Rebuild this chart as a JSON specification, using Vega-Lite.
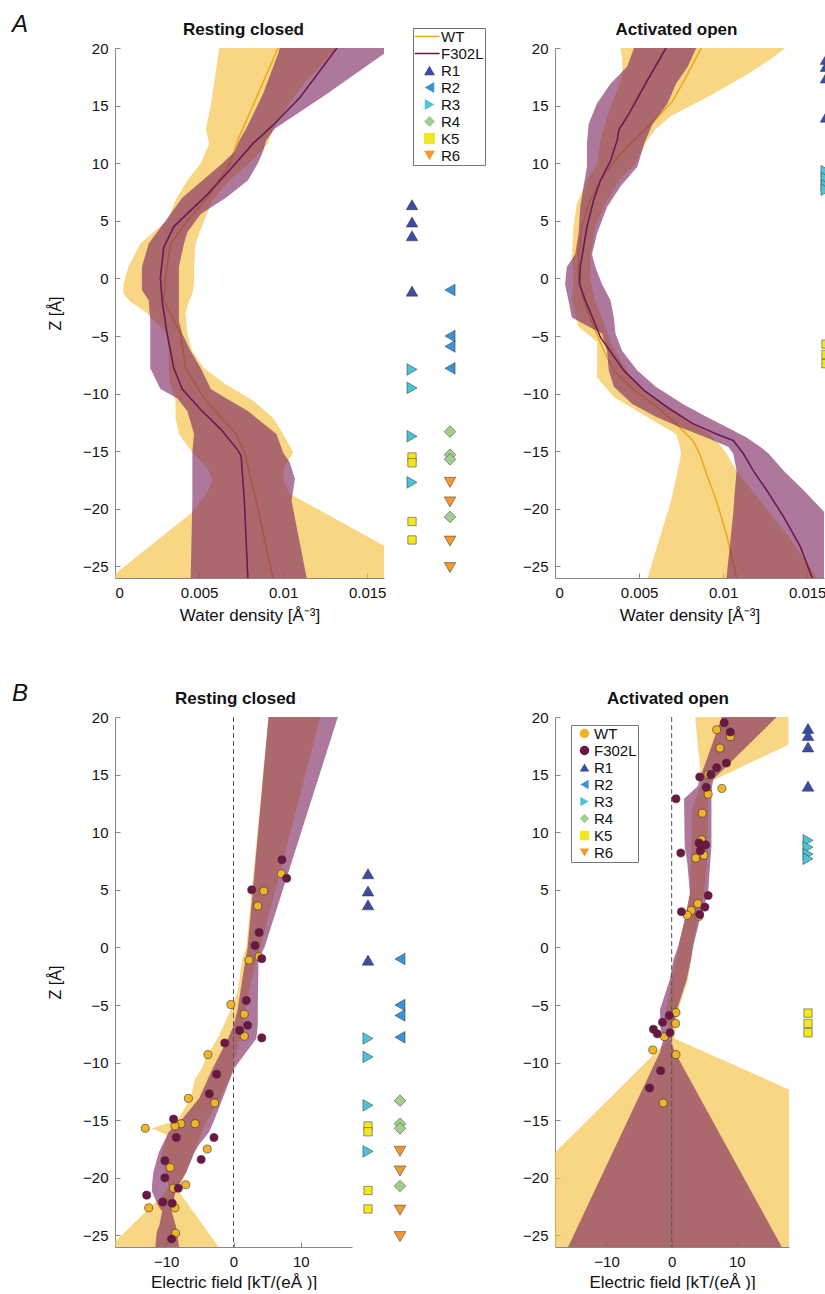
{
  "$schema": "https://vega.github.io/schema/vega-lite/v6.json",
  "background": "white",
  "padding": {"left": 12, "top": 13, "right": 0, "bottom": 0},
  "config": {
    "font": "Liberation Sans",
    "view": {"stroke": null},
    "axis": {"grid": false, "domainColor": "#888", "tickColor": "#888", "labelFontSize": 15, "titleFontSize": 17, "titleFontWeight": "normal", "labelColor": "#111", "titleColor": "#111", "tickSize": -5, "labelFont": "Liberation Sans", "titleFont": "Liberation Sans", "labelPadding": 12, "titlePadding": 7},
    "title": {"font": "Liberation Sans", "color": "#111"},
    "legend": {"labelFont": "Liberation Sans", "labelFontSize": 15, "labelColor": "#111"}
  },
  "datasets": {
    "a1_band": [
      {"s":"WT","z":20,"lo":0.0062,"hi":0.0132},{"s":"WT","z":17,"lo":0.0059,"hi":0.0113},{"s":"WT","z":15,"lo":0.0057,"hi":0.0103},{"s":"WT","z":13,"lo":0.0054,"hi":0.0094},{"s":"WT","z":11.7,"lo":0.0056,"hi":0.0091},{"s":"WT","z":10,"lo":0.0051,"hi":0.0080},{"s":"WT","z":8.5,"lo":0.0043,"hi":0.0068},{"s":"WT","z":6.8,"lo":0.0036,"hi":0.0058},{"s":"WT","z":5,"lo":0.0031,"hi":0.0053},{"s":"WT","z":3.9,"lo":0.0022,"hi":0.0050},{"s":"WT","z":3,"lo":0.0015,"hi":0.0048},{"s":"WT","z":1,"lo":0.0008,"hi":0.0047},{"s":"WT","z":-0.5,"lo":0.0005,"hi":0.0047},{"s":"WT","z":-1.3,"lo":0.0005,"hi":0.0046},{"s":"WT","z":-2,"lo":0.0009,"hi":0.0044},{"s":"WT","z":-3,"lo":0.0019,"hi":0.0042},{"s":"WT","z":-4.8,"lo":0.0031,"hi":0.0043},{"s":"WT","z":-6.3,"lo":0.0032,"hi":0.0046},{"s":"WT","z":-7.8,"lo":0.0032,"hi":0.0053},{"s":"WT","z":-9.2,"lo":0.0033,"hi":0.0066},{"s":"WT","z":-10.6,"lo":0.0036,"hi":0.0082},{"s":"WT","z":-12.1,"lo":0.0036,"hi":0.0094},{"s":"WT","z":-13.5,"lo":0.0038,"hi":0.0100},{"s":"WT","z":-15.1,"lo":0.0046,"hi":0.0106},{"s":"WT","z":-16.3,"lo":0.0054,"hi":0.0101},{"s":"WT","z":-17.5,"lo":0.0058,"hi":0.0100},{"s":"WT","z":-18.7,"lo":0.0054,"hi":0.0104},{"s":"WT","z":-20.3,"lo":0.0046,"hi":0.0124},{"s":"WT","z":-23.2,"lo":0.0021,"hi":0.0160},{"s":"WT","z":-26,"lo":-0.0003,"hi":0.0196},
      {"s":"F302L","z":20,"lo":0.0098,"hi":0.0160},{"s":"F302L","z":19.5,"lo":0.0097,"hi":0.0160},{"s":"F302L","z":16,"lo":0.0088,"hi":0.0126},{"s":"F302L","z":13,"lo":0.0078,"hi":0.0095},{"s":"F302L","z":12,"lo":0.0074,"hi":0.0090},{"s":"F302L","z":11,"lo":0.0071,"hi":0.0088},{"s":"F302L","z":10,"lo":0.0064,"hi":0.0085},{"s":"F302L","z":8.5,"lo":0.0052,"hi":0.0079},{"s":"F302L","z":7,"lo":0.0040,"hi":0.0066},{"s":"F302L","z":5.6,"lo":0.0033,"hi":0.0051},{"s":"F302L","z":4,"lo":0.0025,"hi":0.0043},{"s":"F302L","z":3,"lo":0.0020,"hi":0.0041},{"s":"F302L","z":1,"lo":0.0016,"hi":0.0038},{"s":"F302L","z":-1,"lo":0.0016,"hi":0.0038},{"s":"F302L","z":-1.9,"lo":0.0020,"hi":0.0038},{"s":"F302L","z":-3.7,"lo":0.0021,"hi":0.0038},{"s":"F302L","z":-4.8,"lo":0.0021,"hi":0.0040},{"s":"F302L","z":-6.3,"lo":0.0021,"hi":0.0045},{"s":"F302L","z":-7.8,"lo":0.0021,"hi":0.0051},{"s":"F302L","z":-9.6,"lo":0.0027,"hi":0.0057},{"s":"F302L","z":-10.4,"lo":0.0037,"hi":0.0066},{"s":"F302L","z":-11.5,"lo":0.0043,"hi":0.0079},{"s":"F302L","z":-13.5,"lo":0.0047,"hi":0.0096},{"s":"F302L","z":-15.1,"lo":0.0046,"hi":0.0100},{"s":"F302L","z":-16,"lo":0.0046,"hi":0.0104},{"s":"F302L","z":-17.4,"lo":0.0046,"hi":0.0107},{"s":"F302L","z":-19.3,"lo":0.0046,"hi":0.0105},{"s":"F302L","z":-26,"lo":0.0045,"hi":0.0114}
    ],
    "a1_mean": [
      {"s":"WT","z":20,"v":0.0097},{"s":"WT","z":12,"v":0.0073},{"s":"WT","z":10,"v":0.00685},{"s":"WT","z":7,"v":0.0055},{"s":"WT","z":5,"v":0.0043},{"s":"WT","z":3,"v":0.0033},{"s":"WT","z":0,"v":0.0030},{"s":"WT","z":-1.9,"v":0.0029},{"s":"WT","z":-4.8,"v":0.0039},{"s":"WT","z":-7.8,"v":0.0042},{"s":"WT","z":-10.6,"v":0.0054},{"s":"WT","z":-13.5,"v":0.0072},{"s":"WT","z":-15.1,"v":0.0077},{"s":"WT","z":-19.3,"v":0.0084},{"s":"WT","z":-26,"v":0.0094},
      {"s":"F302L","z":20,"v":0.0132},{"s":"F302L","z":15.7,"v":0.0110},{"s":"F302L","z":13.3,"v":0.0094},{"s":"F302L","z":11.7,"v":0.0082},{"s":"F302L","z":9.7,"v":0.0070},{"s":"F302L","z":7.3,"v":0.0055},{"s":"F302L","z":4.5,"v":0.0035},{"s":"F302L","z":2.7,"v":0.0029},{"s":"F302L","z":0.1,"v":0.0027},{"s":"F302L","z":-1.9,"v":0.0028},{"s":"F302L","z":-4.8,"v":0.0031},{"s":"F302L","z":-7.8,"v":0.0035},{"s":"F302L","z":-9.6,"v":0.0040},{"s":"F302L","z":-11.4,"v":0.0051},{"s":"F302L","z":-13.1,"v":0.0063},{"s":"F302L","z":-14.9,"v":0.0073},{"s":"F302L","z":-15.4,"v":0.0075},{"s":"F302L","z":-19.4,"v":0.0077},{"s":"F302L","z":-26,"v":0.0079}
    ],
    "a2_band": [
      {"s":"WT","z":20,"lo":0.0039,"hi":0.0137},{"s":"WT","z":19,"lo":0.0040,"hi":0.0128},{"s":"WT","z":17.5,"lo":0.0040,"hi":0.0112},{"s":"WT","z":16,"lo":0.0036,"hi":0.0094},{"s":"WT","z":14.1,"lo":0.0031,"hi":0.0069},{"s":"WT","z":13,"lo":0.0029,"hi":0.0060},{"s":"WT","z":12,"lo":0.0027,"hi":0.0055},{"s":"WT","z":10,"lo":0.0025,"hi":0.0048},{"s":"WT","z":8.5,"lo":0.0019,"hi":0.0038},{"s":"WT","z":6.5,"lo":0.0013,"hi":0.0030},{"s":"WT","z":4.5,"lo":0.0011,"hi":0.0024},{"s":"WT","z":2,"lo":0.0010,"hi":0.0021},{"s":"WT","z":0,"lo":0.0011,"hi":0.0021},{"s":"WT","z":-2,"lo":0.0010,"hi":0.0024},{"s":"WT","z":-4.2,"lo":0.0014,"hi":0.0030},{"s":"WT","z":-5.5,"lo":0.0025,"hi":0.0033},{"s":"WT","z":-8.6,"lo":0.0025,"hi":0.0045},{"s":"WT","z":-10.3,"lo":0.0035,"hi":0.0058},{"s":"WT","z":-11.7,"lo":0.0051,"hi":0.0072},{"s":"WT","z":-13.5,"lo":0.0072,"hi":0.0092},{"s":"WT","z":-14.4,"lo":0.0074,"hi":0.0098},{"s":"WT","z":-15.2,"lo":0.0075,"hi":0.0102},{"s":"WT","z":-16.7,"lo":0.0073,"hi":0.0108},{"s":"WT","z":-19.3,"lo":0.0069,"hi":0.0122},{"s":"WT","z":-22.2,"lo":0.0063,"hi":0.0138},{"s":"WT","z":-26,"lo":0.0055,"hi":0.0156},
      {"s":"F302L","z":20,"lo":0.0047,"hi":0.0084},{"s":"F302L","z":18.4,"lo":0.0043,"hi":0.0079},{"s":"F302L","z":16.9,"lo":0.0033,"hi":0.0072},{"s":"F302L","z":15.2,"lo":0.0025,"hi":0.0067},{"s":"F302L","z":13.4,"lo":0.0020,"hi":0.0058},{"s":"F302L","z":11.7,"lo":0.0019,"hi":0.0053},{"s":"F302L","z":9.7,"lo":0.0019,"hi":0.0049},{"s":"F302L","z":8,"lo":0.0017,"hi":0.0039},{"s":"F302L","z":6.2,"lo":0.0015,"hi":0.0031},{"s":"F302L","z":3.9,"lo":0.0014,"hi":0.0025},{"s":"F302L","z":2.1,"lo":0.0012,"hi":0.0022},{"s":"F302L","z":1,"lo":0.0007,"hi":0.0024},{"s":"F302L","z":-0.5,"lo":0.0006,"hi":0.0028},{"s":"F302L","z":-1.9,"lo":0.0008,"hi":0.0033},{"s":"F302L","z":-3.4,"lo":0.0010,"hi":0.0035},{"s":"F302L","z":-4.8,"lo":0.0028,"hi":0.0036},{"s":"F302L","z":-6.3,"lo":0.0031,"hi":0.0040},{"s":"F302L","z":-8,"lo":0.0032,"hi":0.0049},{"s":"F302L","z":-9.4,"lo":0.0035,"hi":0.0060},{"s":"F302L","z":-10.9,"lo":0.0046,"hi":0.0076},{"s":"F302L","z":-12,"lo":0.0060,"hi":0.0090},{"s":"F302L","z":-12.9,"lo":0.0074,"hi":0.0102},{"s":"F302L","z":-13.8,"lo":0.0090,"hi":0.0114},{"s":"F302L","z":-14.6,"lo":0.0103,"hi":0.0122},{"s":"F302L","z":-15.2,"lo":0.0106,"hi":0.0127},{"s":"F302L","z":-16.7,"lo":0.0108,"hi":0.0136},{"s":"F302L","z":-18.4,"lo":0.0107,"hi":0.0148},{"s":"F302L","z":-20.4,"lo":0.0106,"hi":0.0161},{"s":"F302L","z":-26,"lo":0.0102,"hi":0.0190}
    ],
    "a2_mean": [
      {"s":"WT","z":20,"v":0.0087},{"s":"WT","z":17.5,"v":0.0078},{"s":"WT","z":15.4,"v":0.0070},{"s":"WT","z":13.7,"v":0.0059},{"s":"WT","z":12,"v":0.0047},{"s":"WT","z":10.5,"v":0.0037},{"s":"WT","z":8.5,"v":0.0027},{"s":"WT","z":6.5,"v":0.0020},{"s":"WT","z":4.5,"v":0.0016},{"s":"WT","z":2.1,"v":0.0014},{"s":"WT","z":0.1,"v":0.0014},{"s":"WT","z":-1.9,"v":0.0017},{"s":"WT","z":-4.2,"v":0.0023},{"s":"WT","z":-6.25,"v":0.0029},{"s":"WT","z":-8,"v":0.0035},{"s":"WT","z":-9.7,"v":0.0047},{"s":"WT","z":-11.2,"v":0.0061},{"s":"WT","z":-12.9,"v":0.0074},{"s":"WT","z":-14.06,"v":0.0082},{"s":"WT","z":-15.2,"v":0.0086},{"s":"WT","z":-16.9,"v":0.0090},{"s":"WT","z":-19.3,"v":0.0096},{"s":"WT","z":-22.2,"v":0.0102},{"s":"WT","z":-26,"v":0.0108},
      {"s":"F302L","z":20,"v":0.0066},{"s":"F302L","z":17.2,"v":0.0055},{"s":"F302L","z":14.3,"v":0.0044},{"s":"F302L","z":12.9,"v":0.0038},{"s":"F302L","z":12,"v":0.0037},{"s":"F302L","z":10.2,"v":0.0033},{"s":"F302L","z":8.5,"v":0.0027},{"s":"F302L","z":6.8,"v":0.0023},{"s":"F302L","z":4.5,"v":0.0019},{"s":"F302L","z":2.7,"v":0.0017},{"s":"F302L","z":1,"v":0.0015},{"s":"F302L","z":-0.46,"v":0.00145},{"s":"F302L","z":-1.9,"v":0.0018},{"s":"F302L","z":-3.65,"v":0.0023},{"s":"F302L","z":-5.1,"v":0.0027},{"s":"F302L","z":-8,"v":0.0041},{"s":"F302L","z":-9.72,"v":0.0053},{"s":"F302L","z":-11.2,"v":0.0067},{"s":"F302L","z":-12.6,"v":0.0082},{"s":"F302L","z":-13.5,"v":0.0096},{"s":"F302L","z":-14.06,"v":0.0106},{"s":"F302L","z":-15.2,"v":0.0112},{"s":"F302L","z":-16.7,"v":0.0118},{"s":"F302L","z":-18.4,"v":0.0126},{"s":"F302L","z":-20.7,"v":0.0136},{"s":"F302L","z":-23.3,"v":0.0146},{"s":"F302L","z":-26,"v":0.0153}
    ],
    "b1_band": [
      {"s":"WT","z":20,"lo":5.2,"hi":12.9},{"s":"WT","z":0,"lo":1.9,"hi":4.0},{"s":"WT","z":-1,"lo":1.3,"hi":3.4},{"s":"WT","z":-3.9,"lo":0.6,"hi":2.3},{"s":"WT","z":-5.4,"lo":-0.4,"hi":1.8},{"s":"WT","z":-7.7,"lo":-2.2,"hi":1.0},{"s":"WT","z":-9.7,"lo":-4.2,"hi":0.2},{"s":"WT","z":-10.5,"lo":-4.7,"hi":0.0},{"s":"WT","z":-11.4,"lo":-5.7,"hi":-0.6},{"s":"WT","z":-13.1,"lo":-6.4,"hi":-2.0},{"s":"WT","z":-15,"lo":-8.3,"hi":-3.9},{"s":"WT","z":-15.7,"lo":-12.2,"hi":-4.5},{"s":"WT","z":-16.3,"lo":-9.8,"hi":-4.9},{"s":"WT","z":-17.8,"lo":-10.7,"hi":-5.9},{"s":"WT","z":-20.9,"lo":-9.6,"hi":-8.0},{"s":"WT","z":-21.2,"lo":-10.0,"hi":-8.1},{"s":"WT","z":-26,"lo":-18.4,"hi":-2.2},
      {"s":"F302L","z":20,"lo":5.2,"hi":15.5},{"s":"F302L","z":0,"lo":2.1,"hi":4.6},{"s":"F302L","z":-1,"lo":1.8,"hi":3.7},{"s":"F302L","z":-5.4,"lo":0.6,"hi":3.6},{"s":"F302L","z":-6.8,"lo":0.0,"hi":3.6},{"s":"F302L","z":-7.9,"lo":-0.8,"hi":3.4},{"s":"F302L","z":-10.5,"lo":-3.1,"hi":0.1},{"s":"F302L","z":-13.1,"lo":-5.1,"hi":-1.6},{"s":"F302L","z":-14.9,"lo":-7.6,"hi":-2.8},{"s":"F302L","z":-16,"lo":-9.6,"hi":-3.6},{"s":"F302L","z":-17.2,"lo":-10.6,"hi":-5.2},{"s":"F302L","z":-17.8,"lo":-11.1,"hi":-5.8},{"s":"F302L","z":-19.5,"lo":-11.9,"hi":-7.0},{"s":"F302L","z":-20.6,"lo":-12.1,"hi":-8.1},{"s":"F302L","z":-21.2,"lo":-12.1,"hi":-8.6},{"s":"F302L","z":-22.4,"lo":-11.2,"hi":-9.1},{"s":"F302L","z":-22.9,"lo":-10.6,"hi":-9.2},{"s":"F302L","z":-24.1,"lo":-11.0,"hi":-8.6},{"s":"F302L","z":-24.7,"lo":-11.4,"hi":-8.4},{"s":"F302L","z":-26,"lo":-11.6,"hi":-8.1}
    ],
    "b1_pts": [
      {"s":"WT","x":7.1,"z":6.4},{"s":"WT","x":4.5,"z":4.9},{"s":"WT","x":3.6,"z":3.6},{"s":"WT","x":3.8,"z":-0.8},{"s":"WT","x":2.3,"z":-1.1},{"s":"WT","x":-0.4,"z":-4.96},{"s":"WT","x":1.6,"z":-5.8},{"s":"WT","x":1.6,"z":-7.7},{"s":"WT","x":-3.8,"z":-9.3},{"s":"WT","x":-6.7,"z":-13.1},{"s":"WT","x":-2.8,"z":-13.5},{"s":"WT","x":-13.1,"z":-15.7},{"s":"WT","x":-7.8,"z":-15.3},{"s":"WT","x":-5.7,"z":-15.3},{"s":"WT","x":-8.7,"z":-15.5},{"s":"WT","x":-3.9,"z":-17.5},{"s":"WT","x":-9.4,"z":-19.1},{"s":"WT","x":-7.1,"z":-20.6},{"s":"WT","x":-8.9,"z":-20.9},{"s":"WT","x":-12.6,"z":-22.6},{"s":"WT","x":-8.7,"z":-22.6},{"s":"WT","x":-8.6,"z":-24.8},
      {"s":"F302L","x":7.2,"z":7.6},{"s":"F302L","x":7.9,"z":6.0},{"s":"F302L","x":2.7,"z":5.0},{"s":"F302L","x":3.8,"z":1.3},{"s":"F302L","x":3.2,"z":0.17},{"s":"F302L","x":4.2,"z":-0.98},{"s":"F302L","x":1.9,"z":-4.6},{"s":"F302L","x":2.1,"z":-6.75},{"s":"F302L","x":0.9,"z":-7.2},{"s":"F302L","x":4.2,"z":-7.85},{"s":"F302L","x":-1.3,"z":-8.3},{"s":"F302L","x":-2.5,"z":-11.0},{"s":"F302L","x":-3.6,"z":-12.7},{"s":"F302L","x":-8.9,"z":-14.9},{"s":"F302L","x":-8.5,"z":-16.5},{"s":"F302L","x":-2.9,"z":-16.5},{"s":"F302L","x":-4.8,"z":-18.4},{"s":"F302L","x":-10.2,"z":-18.5},{"s":"F302L","x":-10.2,"z":-20.0},{"s":"F302L","x":-8.2,"z":-20.9},{"s":"F302L","x":-12.9,"z":-21.5},{"s":"F302L","x":-10.5,"z":-22.1},{"s":"F302L","x":-9.1,"z":-22.2},{"s":"F302L","x":-9.2,"z":-25.3}
    ],
    "b2_band": [
      {"s":"WT","z":20,"lo":3.6,"hi":17.9},{"s":"WT","z":17.6,"lo":4.0,"hi":17.9},{"s":"WT","z":14.3,"lo":4.6,"hi":5.6},{"s":"WT","z":12,"lo":3.1,"hi":5.6},{"s":"WT","z":8,"lo":3.0,"hi":5.5},{"s":"WT","z":4.7,"lo":2.8,"hi":5.0},{"s":"WT","z":2.4,"lo":2.0,"hi":4.0},{"s":"WT","z":0,"lo":1.0,"hi":3.2},{"s":"WT","z":-2.8,"lo":0.0,"hi":2.5},{"s":"WT","z":-5.4,"lo":-0.9,"hi":1.0},{"s":"WT","z":-7.9,"lo":-0.3,"hi":0.4},{"s":"WT","z":-12.3,"lo":-8.1,"hi":17.9},{"s":"WT","z":-17.8,"lo":-17.9,"hi":39.8},{"s":"WT","z":-26,"lo":-32.3,"hi":70},
      {"s":"F302L","z":20,"lo":7.7,"hi":16.1},{"s":"F302L","z":14.6,"lo":4.3,"hi":6.4},{"s":"F302L","z":14,"lo":4.0,"hi":6.2},{"s":"F302L","z":12.9,"lo":1.9,"hi":6.1},{"s":"F302L","z":8.8,"lo":2.0,"hi":6.1},{"s":"F302L","z":7.3,"lo":2.4,"hi":5.9},{"s":"F302L","z":4.7,"lo":2.8,"hi":5.6},{"s":"F302L","z":2.4,"lo":2.0,"hi":4.3},{"s":"F302L","z":0.1,"lo":1.0,"hi":3.3},{"s":"F302L","z":-1,"lo":0.3,"hi":3.0},{"s":"F302L","z":-2.8,"lo":-0.3,"hi":2.3},{"s":"F302L","z":-5.4,"lo":-1.8,"hi":0.8},{"s":"F302L","z":-7,"lo":-1.7,"hi":0.2},{"s":"F302L","z":-8,"lo":-1.3,"hi":-0.2},{"s":"F302L","z":-9.1,"lo":-1.8,"hi":0.5},{"s":"F302L","z":-26,"lo":-15.9,"hi":16.9}
    ],
    "b2_pts": [
      {"s":"WT","x":6.9,"z":18.9},{"s":"WT","x":9.0,"z":18.3},{"s":"WT","x":7.4,"z":17.3},{"s":"WT","x":5.6,"z":15.0},{"s":"WT","x":7.7,"z":13.8},{"s":"WT","x":5.6,"z":13.3},{"s":"WT","x":4.7,"z":11.65},{"s":"WT","x":4.6,"z":9.34},{"s":"WT","x":4.95,"z":8.0},{"s":"WT","x":3.7,"z":7.75},{"s":"WT","x":4.0,"z":3.8},{"s":"WT","x":3.0,"z":3.2},{"s":"WT","x":2.4,"z":2.8},{"s":"WT","x":4.2,"z":2.7},{"s":"WT","x":0.66,"z":-5.65},{"s":"WT","x":0.6,"z":-6.6},{"s":"WT","x":-1.1,"z":-7.75},{"s":"WT","x":-2.9,"z":-8.9},{"s":"WT","x":0.66,"z":-9.3},{"s":"WT","x":-1.3,"z":-13.5},
      {"s":"F302L","x":8.07,"z":19.5},{"s":"F302L","x":9.0,"z":18.7},{"s":"F302L","x":8.4,"z":16.0},{"s":"F302L","x":6.9,"z":15.6},{"s":"F302L","x":6.0,"z":15.0},{"s":"F302L","x":4.3,"z":14.8},{"s":"F302L","x":5.3,"z":13.9},{"s":"F302L","x":0.66,"z":12.9},{"s":"F302L","x":4.2,"z":9.06},{"s":"F302L","x":5.2,"z":8.9},{"s":"F302L","x":4.4,"z":8.4},{"s":"F302L","x":1.4,"z":8.2},{"s":"F302L","x":5.6,"z":4.5},{"s":"F302L","x":5.1,"z":3.5},{"s":"F302L","x":1.5,"z":3.1},{"s":"F302L","x":4.3,"z":2.85},{"s":"F302L","x":-0.37,"z":-5.9},{"s":"F302L","x":-1.4,"z":-6.5},{"s":"F302L","x":-2.8,"z":-7.1},{"s":"F302L","x":-2.2,"z":-7.5},{"s":"F302L","x":-0.26,"z":-7.4},{"s":"F302L","x":-1.7,"z":-10.7},{"s":"F302L","x":-3.4,"z":-12.2}
    ],
    "res_rest": [
      {"s":"R1","col":1,"z":6.4},{"s":"R1","col":1,"z":4.9},{"s":"R1","col":1,"z":3.7},{"s":"R1","col":1,"z":-1.1},
      {"s":"R3","col":1,"z":-7.9},{"s":"R3","col":1,"z":-9.5},{"s":"R3","col":1,"z":-13.7},{"s":"R3","col":1,"z":-17.7},
      {"s":"K5","col":1,"z":-15.5},{"s":"K5","col":1,"z":-16.0},{"s":"K5","col":1,"z":-21.1},{"s":"K5","col":1,"z":-22.7},
      {"s":"R2","col":2,"z":-1.0},{"s":"R2","col":2,"z":-5.0},{"s":"R2","col":2,"z":-5.9},{"s":"R2","col":2,"z":-7.8},
      {"s":"R4","col":2,"z":-13.3},{"s":"R4","col":2,"z":-15.3},{"s":"R4","col":2,"z":-15.7},{"s":"R4","col":2,"z":-20.7},
      {"s":"R6","col":2,"z":-17.7},{"s":"R6","col":2,"z":-19.4},{"s":"R6","col":2,"z":-22.8},{"s":"R6","col":2,"z":-25.1}
    ],
    "res_act": [
      {"s":"R1","col":1,"z":19.0},{"s":"R1","col":1,"z":18.4},{"s":"R1","col":1,"z":17.4},{"s":"R1","col":1,"z":14.0},
      {"s":"R3","col":1,"z":9.3},{"s":"R3","col":1,"z":8.7},{"s":"R3","col":1,"z":8.1},{"s":"R3","col":1,"z":7.7},
      {"s":"K5","col":1,"z":-5.7},{"s":"K5","col":1,"z":-6.6},{"s":"K5","col":1,"z":-7.4}
    ]
  },
  "vconcat": [
    {
      "title": {"text": "A", "anchor": "start", "frame": "group", "fontSize": 24, "fontStyle": "italic", "fontWeight": "normal", "dx": -103, "offset": -16},
      "bounds": "flush",
      "spacing": 0,
      "resolve": {"scale": {"x": "independent", "y": "independent", "color": "independent", "shape": "independent"}, "legend": {"color": "independent", "shape": "independent"}},
      "hconcat": [
        {
          "width": 269, "height": 530,
          "title": {"text": "Resting closed", "fontSize": 17, "fontWeight": "bold", "offset": 2, "dx": -6},
          "layer": [
            {"data": {"name": "a1_band"}, "transform": [{"filter": "datum.s === 'WT'"}],
             "mark": {"type": "area", "orient": "horizontal", "color": "#f5c040", "opacity": 0.65, "clip": true},
             "encoding": {
               "y": {"field": "z", "type": "quantitative", "scale": {"domain": [-26, 20], "nice": false, "zero": false}, "axis": {"values": [20, 15, 10, 5, 0, -5, -10, -15, -20, -25], "title": "Z [Å]", "titlePadding": 19, "titleFontSize": 16}},
               "x": {"field": "lo", "type": "quantitative", "scale": {"domain": [0, 0.016], "nice": false, "zero": false}, "axis": {"values": [0, 0.005, 0.01, 0.015], "format": "~g", "title": "Water density [Å⁻³]"}},
               "x2": {"field": "hi"}}},
            {"data": {"name": "a1_mean"}, "transform": [{"filter": "datum.s === 'WT'"}],
             "mark": {"type": "line", "color": "#f0a81e", "strokeWidth": 1.6, "clip": true},
             "encoding": {"y": {"field": "z", "type": "quantitative"}, "x": {"field": "v", "type": "quantitative", "title": "Water density [Å⁻³]"}, "order": {"field": "z", "type": "quantitative"}}},
            {"data": {"name": "a1_band"}, "transform": [{"filter": "datum.s === 'F302L'"}],
             "mark": {"type": "area", "orient": "horizontal", "color": "#7d2560", "opacity": 0.62, "clip": true},
             "encoding": {"y": {"field": "z", "type": "quantitative"}, "x": {"field": "lo", "type": "quantitative", "title": "Water density [Å⁻³]"}, "x2": {"field": "hi"}}},
            {"data": {"name": "a1_mean"}, "transform": [{"filter": "datum.s === 'F302L'"}],
             "mark": {"type": "line", "color": "#6b1a52", "strokeWidth": 1.6, "clip": true},
             "encoding": {"y": {"field": "z", "type": "quantitative"}, "x": {"field": "v", "type": "quantitative", "title": "Water density [Å⁻³]"}, "order": {"field": "z", "type": "quantitative"}}}
          ]
        },
        {
          "width": 171, "height": 530,
          "data": {"name": "res_rest"},
          "encoding": {
            "x": {"field": "col", "type": "quantitative", "scale": {"domain": [0.263, 4.763], "nice": false, "zero": false}, "axis": null},
            "y": {"field": "z", "type": "quantitative", "scale": {"domain": [-26, 20], "nice": false, "zero": false}, "axis": null},
            "color": {"field": "s", "type": "nominal", "scale": {"domain": ["WT", "F302L", "R1", "R2", "R3", "R4", "K5", "R6"], "range": ["#f0a81e", "#6b1a52", "#3b4ba8", "#3a93d5", "#4cc4d6", "#9fd08f", "#f2e622", "#f29a2e"]},
              "legend": {"orient": "none", "legendX": 29, "legendY": -20, "title": null, "labelFontSize": 15, "symbolSize": 120, "padding": 1, "symbolOffset": 8, "labelOffset": 4, "rowPadding": 1, "strokeColor": "#777", "fillColor": "white", "symbolStrokeWidth": 0}},
            "shape": {"field": "s", "type": "nominal", "scale": {"domain": ["WT", "F302L", "R1", "R2", "R3", "R4", "K5", "R6"], "range": ["M-2.7,-0.14H1.85V0.14H-2.7Z", "M-2.7,-0.14H1.85V0.14H-2.7Z", "triangle-up", "triangle-left", "triangle-right", "diamond", "square", "triangle-down"]},
              "legend": {"orient": "none", "legendX": 29, "legendY": -20, "title": null, "labelFontSize": 15, "symbolSize": 120, "padding": 1, "symbolOffset": 8, "labelOffset": 4, "rowPadding": 1, "strokeColor": "#777", "fillColor": "white", "symbolStrokeWidth": 0}}
          },
          "layer": [
            {"transform": [{"filter": "datum.s === 'K5'"}], "mark": {"type": "point", "filled": true, "size": 70, "stroke": "#333", "strokeWidth": 0.5, "opacity": 1}},
            {"transform": [{"filter": "datum.s !== 'K5'"}], "mark": {"type": "point", "filled": true, "size": 135, "stroke": "#333", "strokeWidth": 0.5, "opacity": 1}}
          ]
        },
        {
          "width": 269, "height": 530,
          "title": {"text": "Activated open", "fontSize": 17, "fontWeight": "bold", "offset": 2, "dx": -13},
          "layer": [
            {"data": {"name": "a2_band"}, "transform": [{"filter": "datum.s === 'WT'"}],
             "mark": {"type": "area", "orient": "horizontal", "color": "#f5c040", "opacity": 0.65, "clip": true},
             "encoding": {
               "y": {"field": "z", "type": "quantitative", "scale": {"domain": [-26, 20], "nice": false, "zero": false}, "axis": {"values": [20, 15, 10, 5, 0, -5, -10, -15, -20, -25], "title": null}},
               "x": {"field": "lo", "type": "quantitative", "scale": {"domain": [0, 0.016], "nice": false, "zero": false}, "axis": {"values": [0, 0.005, 0.01, 0.015], "format": "~g", "title": "Water density [Å⁻³]"}},
               "x2": {"field": "hi"}}},
            {"data": {"name": "a2_mean"}, "transform": [{"filter": "datum.s === 'WT'"}],
             "mark": {"type": "line", "color": "#f0a81e", "strokeWidth": 1.6, "clip": true},
             "encoding": {"y": {"field": "z", "type": "quantitative"}, "x": {"field": "v", "type": "quantitative", "title": "Water density [Å⁻³]"}, "order": {"field": "z", "type": "quantitative"}}},
            {"data": {"name": "a2_band"}, "transform": [{"filter": "datum.s === 'F302L'"}],
             "mark": {"type": "area", "orient": "horizontal", "color": "#7d2560", "opacity": 0.62, "clip": true},
             "encoding": {"y": {"field": "z", "type": "quantitative"}, "x": {"field": "lo", "type": "quantitative", "title": "Water density [Å⁻³]"}, "x2": {"field": "hi"}}},
            {"data": {"name": "a2_mean"}, "transform": [{"filter": "datum.s === 'F302L'"}],
             "mark": {"type": "line", "color": "#6b1a52", "strokeWidth": 1.6, "clip": true},
             "encoding": {"y": {"field": "z", "type": "quantitative"}, "x": {"field": "v", "type": "quantitative", "title": "Water density [Å⁻³]"}, "order": {"field": "z", "type": "quantitative"}}}
          ]
        },
        {
          "width": 60, "height": 530,
          "data": {"name": "res_act"},
          "encoding": {
            "x": {"field": "col", "type": "quantitative", "scale": {"domain": [0.947, 2.526], "nice": false, "zero": false}, "axis": null},
            "y": {"field": "z", "type": "quantitative", "scale": {"domain": [-26, 20], "nice": false, "zero": false}, "axis": null},
            "color": {"field": "s", "type": "nominal", "scale": {"domain": ["WT", "F302L", "R1", "R2", "R3", "R4", "K5", "R6"], "range": ["#f0a81e", "#6b1a52", "#3b4ba8", "#3a93d5", "#4cc4d6", "#9fd08f", "#f2e622", "#f29a2e"]}, "legend": null},
            "shape": {"field": "s", "type": "nominal", "scale": {"domain": ["WT", "F302L", "R1", "R2", "R3", "R4", "K5", "R6"], "range": ["circle", "circle", "triangle-up", "triangle-left", "triangle-right", "diamond", "square", "triangle-down"]}, "legend": null}
          },
          "layer": [
            {"transform": [{"filter": "datum.s === 'K5'"}], "mark": {"type": "point", "filled": true, "size": 70, "stroke": "#333", "strokeWidth": 0.5, "opacity": 1}},
            {"transform": [{"filter": "datum.s !== 'K5'"}], "mark": {"type": "point", "filled": true, "size": 135, "stroke": "#333", "strokeWidth": 0.5, "opacity": 1}}
          ]
        }
      ]
    },
    {
      "title": {"text": "B", "anchor": "start", "frame": "group", "fontSize": 24, "fontStyle": "italic", "fontWeight": "normal", "dx": -103, "offset": -16},
      "bounds": "flush",
      "spacing": 0,
      "resolve": {"scale": {"x": "independent", "y": "independent", "color": "independent", "shape": "independent"}, "legend": {"color": "independent", "shape": "independent"}},
      "hconcat": [
        {
          "width": 237, "height": 530,
          "title": {"text": "Resting closed", "fontSize": 17, "fontWeight": "bold", "offset": 2, "dx": 2},
          "layer": [
            {"data": {"name": "b1_band"}, "transform": [{"filter": "datum.s === 'WT'"}],
             "mark": {"type": "area", "orient": "horizontal", "color": "#f5c040", "opacity": 0.65, "clip": true},
             "encoding": {
               "y": {"field": "z", "type": "quantitative", "scale": {"domain": [-26, 20], "nice": false, "zero": false}, "axis": {"values": [20, 15, 10, 5, 0, -5, -10, -15, -20, -25], "title": "Z [Å]", "titlePadding": 19, "titleFontSize": 16}},
               "x": {"field": "lo", "type": "quantitative", "scale": {"domain": [-17.6, 17.6], "nice": false, "zero": false}, "axis": {"values": [-10, 0, 10], "title": "Electric field [kT/(eÅ )]", "titlePadding": 5}},
               "x2": {"field": "hi"}}},
            {"data": {"name": "b1_band"}, "transform": [{"filter": "datum.s === 'F302L'"}],
             "mark": {"type": "area", "orient": "horizontal", "color": "#7d2560", "opacity": 0.62, "clip": true},
             "encoding": {"y": {"field": "z", "type": "quantitative"}, "x": {"field": "lo", "type": "quantitative", "title": "Electric field [kT/(eÅ )]"}, "x2": {"field": "hi"}}},
            {"data": {"values": [{"x0": 0}]},
             "mark": {"type": "rule", "color": "#555", "strokeDash": [5, 3], "strokeWidth": 1},
             "encoding": {"x": {"field": "x0", "type": "quantitative", "title": "Electric field [kT/(eÅ )]"}}},
            {"data": {"name": "b1_pts"},
             "mark": {"type": "point", "filled": true, "size": 65, "stroke": "#333", "strokeWidth": 0.6, "opacity": 1},
             "encoding": {"y": {"field": "z", "type": "quantitative"}, "x": {"field": "x", "type": "quantitative", "title": "Electric field [kT/(eÅ )]"},
               "color": {"field": "s", "type": "nominal", "scale": {"domain": ["WT", "F302L"], "range": ["#f0b428", "#6e1545"]}, "legend": null},
               "order": {"field": "s", "type": "nominal", "sort": "descending"}}}
          ]
        },
        {
          "width": 203, "height": 530,
          "data": {"name": "res_rest"},
          "encoding": {
            "x": {"field": "col", "type": "quantitative", "scale": {"domain": [0.5, 6.844], "nice": false, "zero": false}, "axis": null},
            "y": {"field": "z", "type": "quantitative", "scale": {"domain": [-26, 20], "nice": false, "zero": false}, "axis": null},
            "color": {"field": "s", "type": "nominal", "scale": {"domain": ["WT", "F302L", "R1", "R2", "R3", "R4", "K5", "R6"], "range": ["#f0b428", "#6e1545", "#3b4ba8", "#3a93d5", "#4cc4d6", "#9fd08f", "#f2e622", "#f29a2e"]}, "legend": null},
            "shape": {"field": "s", "type": "nominal", "scale": {"domain": ["WT", "F302L", "R1", "R2", "R3", "R4", "K5", "R6"], "range": ["circle", "circle", "triangle-up", "triangle-left", "triangle-right", "diamond", "square", "triangle-down"]}, "legend": null}
          },
          "layer": [
            {"transform": [{"filter": "datum.s === 'K5'"}], "mark": {"type": "point", "filled": true, "size": 70, "stroke": "#333", "strokeWidth": 0.5, "opacity": 1}},
            {"transform": [{"filter": "datum.s !== 'K5'"}], "mark": {"type": "point", "filled": true, "size": 135, "stroke": "#333", "strokeWidth": 0.5, "opacity": 1}}
          ]
        },
        {
          "width": 234, "height": 530,
          "title": {"text": "Activated open", "fontSize": 17, "fontWeight": "bold", "offset": 2, "dx": -4},
          "layer": [
            {"data": {"name": "b2_band"}, "transform": [{"filter": "datum.s === 'WT'"}],
             "mark": {"type": "area", "orient": "horizontal", "color": "#f5c040", "opacity": 0.65, "clip": true},
             "encoding": {
               "y": {"field": "z", "type": "quantitative", "scale": {"domain": [-26, 20], "nice": false, "zero": false}, "axis": {"values": [20, 15, 10, 5, 0, -5, -10, -15, -20, -25], "title": null}},
               "x": {"field": "lo", "type": "quantitative", "scale": {"domain": [-17.9, 18], "nice": false, "zero": false}, "axis": {"values": [-10, 0, 10], "title": "Electric field [kT/(eÅ )]", "titlePadding": 5}},
               "x2": {"field": "hi"}}},
            {"data": {"name": "b2_band"}, "transform": [{"filter": "datum.s === 'F302L'"}],
             "mark": {"type": "area", "orient": "horizontal", "color": "#7d2560", "opacity": 0.62, "clip": true},
             "encoding": {"y": {"field": "z", "type": "quantitative"}, "x": {"field": "lo", "type": "quantitative", "title": "Electric field [kT/(eÅ )]"}, "x2": {"field": "hi"}}},
            {"data": {"values": [{"x0": 0}]},
             "mark": {"type": "rule", "color": "#555", "strokeDash": [5, 3], "strokeWidth": 1},
             "encoding": {"x": {"field": "x0", "type": "quantitative", "title": "Electric field [kT/(eÅ )]"}}},
            {"data": {"name": "b2_pts"},
             "mark": {"type": "point", "filled": true, "size": 65, "stroke": "#333", "strokeWidth": 0.6, "opacity": 1},
             "encoding": {"y": {"field": "z", "type": "quantitative"}, "x": {"field": "x", "type": "quantitative", "title": "Electric field [kT/(eÅ )]"},
               "color": {"field": "s", "type": "nominal", "scale": {"domain": ["WT", "F302L"], "range": ["#f0b428", "#6e1545"]}, "legend": null},
               "order": {"field": "s", "type": "nominal", "sort": "descending"}}}
          ]
        },
        {
          "width": 60, "height": 530,
          "data": {"name": "res_act"},
          "encoding": {
            "x": {"field": "col", "type": "quantitative", "scale": {"domain": [0.406, 2.281], "nice": false, "zero": false}, "axis": null},
            "y": {"field": "z", "type": "quantitative", "scale": {"domain": [-26, 20], "nice": false, "zero": false}, "axis": null},
            "color": {"field": "s", "type": "nominal", "scale": {"domain": ["WT", "F302L", "R1", "R2", "R3", "R4", "K5", "R6"], "range": ["#f0b428", "#6e1545", "#3b4ba8", "#3a93d5", "#4cc4d6", "#9fd08f", "#f2e622", "#f29a2e"]},
              "legend": {"orient": "none", "legendX": -218, "legendY": 8, "title": null, "labelFontSize": 15, "symbolSize": 90, "padding": 1, "symbolOffset": 5, "labelOffset": 2, "rowPadding": 1, "strokeColor": "#777", "fillColor": "white", "symbolStrokeWidth": 0}},
            "shape": {"field": "s", "type": "nominal", "scale": {"domain": ["WT", "F302L", "R1", "R2", "R3", "R4", "K5", "R6"], "range": ["circle", "circle", "triangle-up", "triangle-left", "triangle-right", "diamond", "square", "triangle-down"]},
              "legend": {"orient": "none", "legendX": -218, "legendY": 8, "title": null, "labelFontSize": 15, "symbolSize": 90, "padding": 1, "symbolOffset": 5, "labelOffset": 2, "rowPadding": 1, "strokeColor": "#777", "fillColor": "white", "symbolStrokeWidth": 0}}
          },
          "layer": [
            {"transform": [{"filter": "datum.s === 'K5'"}], "mark": {"type": "point", "filled": true, "size": 70, "stroke": "#333", "strokeWidth": 0.5, "opacity": 1}},
            {"transform": [{"filter": "datum.s !== 'K5'"}], "mark": {"type": "point", "filled": true, "size": 135, "stroke": "#333", "strokeWidth": 0.5, "opacity": 1}}
          ]
        }
      ]
    }
  ],
  "spacing": 669,
  "bounds": "flush",
  "resolve": {"scale": {"color": "independent", "shape": "independent"}, "legend": {"color": "independent", "shape": "independent"}}
}
